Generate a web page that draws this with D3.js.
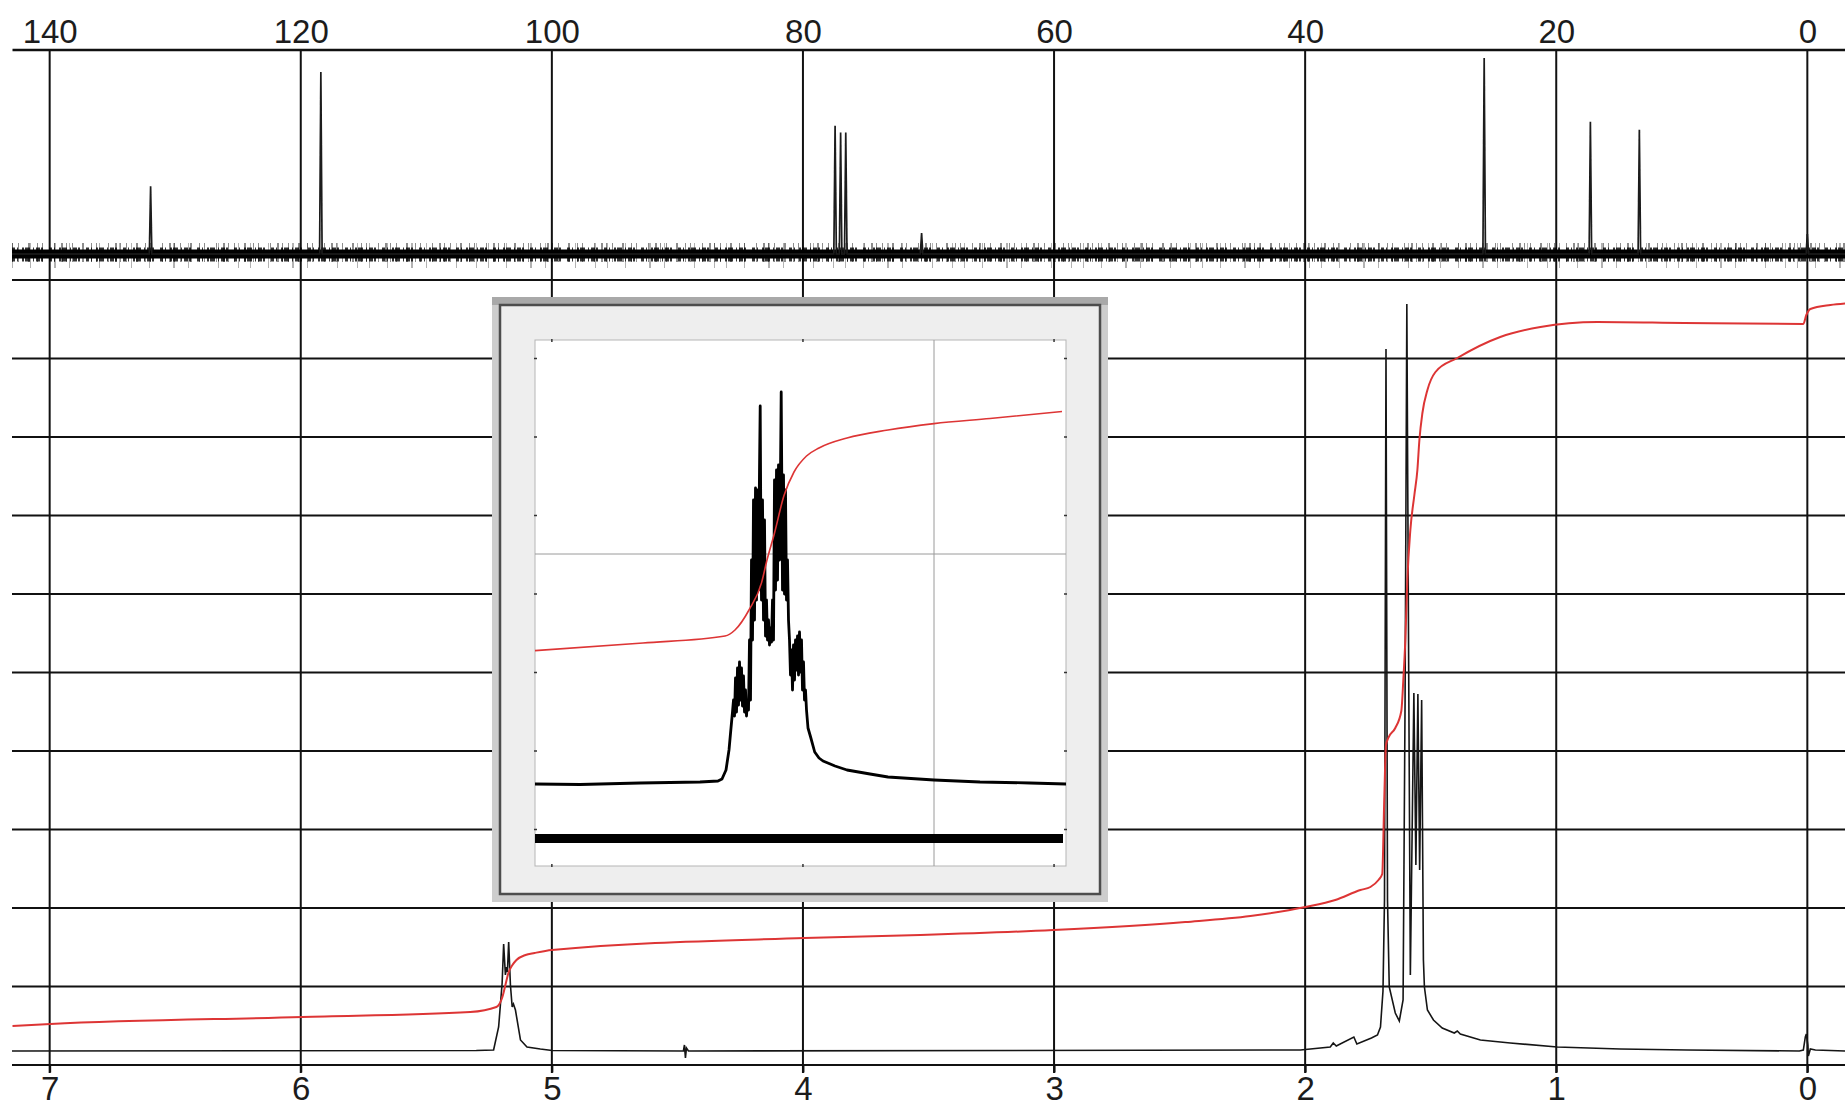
<!DOCTYPE html>
<html><head><meta charset="utf-8">
<script src="https://cdn.jsdelivr.net/npm/d3@7"></script>
<style>html,body{margin:0;padding:0;background:#fff;} svg{display:block;}</style>
</head><body>
<svg id="chart" width="1845" height="1106"></svg>
<script>
// ---------------- data ----------------
const carbonTicks = [140, 120, 100, 80, 60, 40, 20, 0];
const protonTicks = [7, 6, 5, 4, 3, 2, 1, 0];

// 13C peaks (ppm, height)
const carbonPeakPpm    = [131.96, 118.4, 77.44, 77.0, 76.59, 70.55, 25.74, 17.28, 13.38, 0.0];
const carbonPeakHeight = [68, 183, 129, 122, 122, 21, 197, 133, 125, 20];

// 1H spectrum trace (ppm, intensity)
const protonPpm = [7.15, 5.301, 5.232, 5.212, 5.198, 5.192, 5.185, 5.181, 5.177, 5.172, 5.165, 5.158, 5.153, 5.145, 5.125, 5.099, 5.046, 4.999,
  4.476, 4.472, 4.468, 4.464, 4.456, 2.019, 1.900, 1.888, 1.876, 1.806, 1.794, 1.736, 1.712, 1.700, 1.690, 1.684, 1.678, 1.672, 1.665, 1.641, 1.625,
  1.610, 1.602, 1.595, 1.587, 1.581, 1.567, 1.559, 1.551, 1.544, 1.536, 1.529, 1.525, 1.513, 1.489, 1.454, 1.406, 1.394, 1.382, 1.302, 1.183,
  0.996, 0.745, 0.478, 0.032, 0.016, 0.008, 0.004, -0.002, -0.004, -0.012, -0.032, -0.151];
const protonIntensity = [0, 0.5, 1, 24, 68, 107, 76, 84, 79, 109, 66, 44, 47, 41, 11, 4, 2, 0.5,
  0, 6, -7, 3, 0, 1, 4, 8, 5, 14, 7, 13, 16, 24, 60, 151, 702, 151, 64, 38, 30,
  51, 351, 747, 351, 76, 358, 186, 357, 181, 351, 91, 64, 41, 31, 23, 18, 20, 17, 11, 8,
  4, 2, 1, 0, 1, 14, 17, 6, -5, 2, 1, 0];

// 1H integral curve (ppm, value)
const protonIntegralPpm = [7.148, 6.997, 5.994, 5.325, 5.221, 5.197, 5.185, 5.173, 5.157, 5.141, 5.105, 5.069, 5.000, 3.994, 3.532, 3.003,
  2.477, 2.218, 1.999, 1.880, 1.780, 1.740, 1.708, 1.693, 1.685, 1.678, 1.669, 1.641, 1.617, 1.609, 1.601, 1.593, 1.581, 1.565, 1.553, 1.545,
  1.533, 1.513, 1.481, 1.394, 1.223, 1.063, 0.836, 0.490, 0.016, 0.004, -0.012, -0.092, -0.151];
const protonIntegralValue = [25, 27, 34, 39, 44, 54, 66, 78, 86, 91, 96, 98, 101, 113, 116, 121,
  129, 135, 144, 151, 161, 164, 171, 177, 251, 306, 313, 323, 340, 371, 411, 471, 521, 556, 581, 611,
  638, 661, 679, 693, 714, 724, 729, 728, 727, 736, 742, 746, 747.5];

// inset: expansion of the 5.18 ppm multiplet (ppm, intensity)
const insetPpm = [5.420, 5.375, 5.315, 5.255, 5.237, 5.233, 5.229, 5.226, 5.224, 5.2225, 5.2215, 5.2205, 5.2195, 5.2185, 5.2175, 5.2165,
  5.2155, 5.2145, 5.2135, 5.2125, 5.2115, 5.2105, 5.2095, 5.2085, 5.2075, 5.2065, 5.2055, 5.2045, 5.2035, 5.2025, 5.2015, 5.2005, 5.1995,
  5.1985, 5.1975, 5.1965, 5.1955, 5.1948, 5.1942, 5.1935, 5.1925, 5.1915, 5.1905, 5.1895, 5.1885, 5.1875, 5.1865, 5.1855, 5.1845, 5.1835,
  5.1825, 5.1815, 5.1805, 5.1795, 5.1785, 5.1775, 5.1765, 5.1755, 5.1745, 5.1738, 5.1732, 5.1725, 5.1715, 5.1705, 5.1695, 5.1685, 5.1675,
  5.1665, 5.1655, 5.1645, 5.1635, 5.1625, 5.1615, 5.1605, 5.1595, 5.1585, 5.1575, 5.1565, 5.1555, 5.1545, 5.1535, 5.1525, 5.1515, 5.1505,
  5.1495, 5.1485, 5.147, 5.1444, 5.1403, 5.136, 5.132, 5.120, 5.108, 5.085, 5.067, 5.021, 4.975, 4.925, 4.889];
const insetIntensity = [0, -0.5, 1, 2, 3, 5, 14, 34, 56, 72, 84, 68, 106, 72, 116, 79,
  122, 84, 116, 78, 108, 72, 94, 68, 84, 74, 144, 84, 224, 144, 284, 164, 296,
  184, 294, 194, 314, 378, 264, 184, 284, 164, 264, 148, 184, 144, 164, 139, 156, 142,
  184, 144, 304, 194, 314, 204, 319, 224, 314, 392, 304, 194, 309, 190, 294, 184, 224,
  164, 144, 109, 134, 94, 139, 104, 144, 114, 148, 109, 152, 112, 144, 94, 122, 84,
  94, 74, 56, 47, 32, 26, 23, 18, 14, 10, 7, 4, 2, 1, 0];
const insetIntegralPpm = [5.420, 5.312, 5.230, 5.220, 5.206, 5.1934, 5.188, 5.181, 5.171, 5.161, 5.1485, 5.136, 5.108, 5.067, 5.021, 4.965, 4.893];
const insetIntegralValue = [133.4, 141, 148, 154, 174, 201.4, 224, 249, 288.4, 312, 328, 336, 346, 354, 360.4, 365.5, 372.5];
const insetGridPpm = [5.021];
const insetGridIntensity = [230];
const insetBandIntensity = [-54.5];

// ---------------- layout ----------------
const W = 1845, H = 1106;
const plotLeft = 12, plotRight = 1845;
const topAxisY = 50;
const gridTopY = 280, gridBottomY = 1065, tickExt = 8;
const FONT = "'Liberation Sans', Arial, Helvetica, sans-serif";
const gridColor = '#111';
const red = '#dd3535';

const svg = d3.select('#chart');
svg.append('rect').attr('width', W).attr('height', H).attr('fill', '#fff');
const defs = svg.append('defs');
defs.append('filter').attr('id', 'soft').attr('x', '-1%').attr('y', '-50%').attr('width', '102%').attr('height', '200%')
  .append('feGaussianBlur').attr('stdDeviation', 0.55);

const xH = d3.scaleLinear().domain([7.15, -0.15]).range([plotLeft, plotRight]);
const xC = d3.scaleLinear().domain([143, -3]).range([plotLeft, plotRight]);
const yC = d3.scaleLinear().domain([0, 197]).range([254, 58]);
const yH = d3.scaleLinear().domain([0, 747]).range([1051, 304]);
const yGrid = d3.scaleLinear().domain([0, 10]).range([gridBottomY, gridTopY]);

// vertical grid lines (shared by both scales)
svg.append('g').selectAll('line').data(protonTicks).join('line')
  .attr('x1', d => xH(d)).attr('x2', d => xH(d))
  .attr('y1', topAxisY).attr('y2', gridBottomY + tickExt)
  .attr('stroke', gridColor).attr('stroke-width', 2);

// horizontal grid lines of the 1H panel
svg.append('g').selectAll('line').data(yGrid.ticks(10)).join('line')
  .attr('x1', plotLeft).attr('x2', plotRight)
  .attr('y1', d => yGrid(d)).attr('y2', d => yGrid(d))
  .attr('stroke', gridColor).attr('stroke-width', 2);

// top (13C) axis
const topAxis = d3.axisTop(xC).tickValues(carbonTicks).tickSize(0).tickPadding(7).tickFormat(d3.format('d'));
const gTop = svg.append('g').attr('transform', `translate(0,${topAxisY - 0.5})`).call(topAxis);
gTop.select('.domain').attr('stroke', gridColor).attr('stroke-width', 2.5);
gTop.selectAll('text').attr('font-size', 33).attr('font-family', FONT).attr('fill', '#1c1c1c');

// bottom (1H) axis
const botAxis = d3.axisBottom(xH).tickValues(protonTicks).tickSize(tickExt).tickSizeOuter(0).tickPadding(4).tickFormat(d3.format('d'));
const gBot = svg.append('g').attr('transform', `translate(0,${gridBottomY - 0.5})`).call(botAxis);
gBot.select('.domain').attr('stroke', gridColor).attr('stroke-width', 2);
gBot.selectAll('.tick line').attr('stroke', gridColor).attr('stroke-width', 2);
gBot.selectAll('text').attr('font-size', 33).attr('font-family', FONT).attr('fill', '#1c1c1c');

// ---------------- 13C spectrum ----------------
const lineC = d3.line().x(d => xC(d[0])).y(d => yC(d[1]));
const baseC = [[143, 0], [-3, 0]];
const gC = svg.append('g').attr('filter', 'url(#soft)');
// baseline noise band drawn as a textured stroke
const noiseLayers = [
  {w: 25, op: 0.30, dash: '1,17,1,23,2,13,1,29,1,19,1,11', dy: 1.5},
  {w: 19, op: 0.45, dash: '1,5,1,9,2,7,1,4,1,11,1,6,2,3', dy: -1.5},
  {w: 14, op: 0.80, dash: '3,2,1,4,2,1,5,3,1,2,4,1,2,6', dy: 0.5},
  {w: 9, op: 1.0, dash: null, dy: 0}
];
noiseLayers.forEach(l => {
  const p = gC.append('path').attr('d', lineC(baseC)).attr('fill', 'none').attr('stroke', '#000')
    .attr('stroke-width', l.w).attr('stroke-opacity', l.op).attr('transform', `translate(0,${l.dy})`);
  if (l.dash) p.attr('stroke-dasharray', l.dash);
});
const carbonPts = [[143, 0]];
carbonPeakPpm.map((p, i) => [p, carbonPeakHeight[i]]).sort((a, b) => b[0] - a[0])
  .forEach(([p, h]) => { carbonPts.push([p + 0.1, 0], [p, h], [p - 0.1, 0]); });
carbonPts.push([-3, 0]);
gC.append('path').attr('d', lineC(carbonPts)).attr('fill', 'none')
  .attr('stroke', '#1a1a1a').attr('stroke-width', 1.7).attr('stroke-linejoin', 'miter');

// ---------------- 1H spectrum + integral ----------------
const lineH = d3.line().x(d => xH(d[0])).y(d => yH(d[1]));
svg.append('path').attr('d', lineH(protonPpm.map((p, i) => [p, protonIntensity[i]])))
  .attr('fill', 'none').attr('stroke', '#151515').attr('stroke-width', 1.6);
const lineInt = d3.line().x(d => xH(d[0])).y(d => yH(d[1])).curve(d3.curveMonotoneX);
svg.append('path').attr('d', lineInt(protonIntegralPpm.map((p, i) => [p, protonIntegralValue[i]])))
  .attr('fill', 'none').attr('stroke', red).attr('stroke-width', 2);

// ---------------- inset ----------------
const frame = {x: 492, y: 297, w: 616, h: 605, band: 8};
const plot = {x: 535, y: 340, w: 531, h: 526};
const xIn = d3.scaleLinear().domain([5.42, 4.889]).range([plot.x, plot.x + plot.w]);
const yIn = d3.scaleLinear().domain([0, 444]).range([784, plot.y]);

const gIn = svg.append('g');
gIn.append('rect').attr('x', frame.x).attr('y', frame.y).attr('width', frame.w).attr('height', frame.h).attr('fill', '#cdcdcd');
gIn.append('rect').attr('x', frame.x).attr('y', frame.y).attr('width', frame.w).attr('height', frame.band).attr('fill', '#a9a9a9');
gIn.append('rect').attr('x', frame.x + frame.band).attr('y', frame.y + frame.band)
  .attr('width', frame.w - 2 * frame.band).attr('height', frame.h - 2 * frame.band)
  .attr('fill', '#eeeeee').attr('stroke', '#4d4d4d').attr('stroke-width', 2.5);
gIn.append('rect').attr('x', plot.x).attr('y', plot.y).attr('width', plot.w).attr('height', plot.h)
  .attr('fill', '#fff').attr('stroke', '#b5b5b5').attr('stroke-width', 1);

// small ticks on the inset edges where the main grid passes
const insetRowTicks = yGrid.ticks(10).map(d => yGrid(d)).filter(y => y > plot.y + 4 && y < plot.y + plot.h - 4);
const insetColTicks = protonTicks.map(d => xH(d)).filter(x => x > plot.x + 4 && x < plot.x + plot.w - 4);
const gTk = gIn.append('g').attr('stroke', '#333').attr('stroke-width', 1.5);
insetRowTicks.forEach(y => {
  gTk.append('line').attr('x1', plot.x - 1).attr('x2', plot.x + 2).attr('y1', y).attr('y2', y);
  gTk.append('line').attr('x1', plot.x + plot.w - 2).attr('x2', plot.x + plot.w + 1).attr('y1', y).attr('y2', y);
});
insetColTicks.forEach(x => {
  gTk.append('line').attr('x1', x).attr('x2', x).attr('y1', plot.y - 1).attr('y2', plot.y + 2);
  gTk.append('line').attr('x1', x).attr('x2', x).attr('y1', plot.y + plot.h - 2).attr('y2', plot.y + plot.h + 1);
});

// inset grid lines
gIn.append('g').selectAll('line').data(insetGridPpm).join('line')
  .attr('x1', d => xIn(d)).attr('x2', d => xIn(d)).attr('y1', plot.y).attr('y2', plot.y + plot.h)
  .attr('stroke', '#9a9a9a').attr('stroke-width', 1);
gIn.append('g').selectAll('line').data(insetGridIntensity).join('line')
  .attr('x1', plot.x).attr('x2', plot.x + plot.w).attr('y1', d => yIn(d)).attr('y2', d => yIn(d))
  .attr('stroke', '#9a9a9a').attr('stroke-width', 1);

// thick bar
gIn.append('g').selectAll('line').data(insetBandIntensity).join('line')
  .attr('x1', plot.x).attr('x2', plot.x + plot.w - 3).attr('y1', d => yIn(d)).attr('y2', d => yIn(d))
  .attr('stroke', '#000').attr('stroke-width', 9);

const lineIn = d3.line().x(d => xIn(d[0])).y(d => yIn(d[1]));
gIn.append('path').attr('d', lineIn(insetPpm.map((p, i) => [p, insetIntensity[i]])))
  .attr('fill', 'none').attr('stroke', '#000').attr('stroke-width', 2.8).attr('stroke-linejoin', 'round');
const lineInInt = d3.line().x(d => xIn(d[0])).y(d => yIn(d[1])).curve(d3.curveMonotoneX);
gIn.append('path').attr('d', lineInInt(insetIntegralPpm.map((p, i) => [p, insetIntegralValue[i]])))
  .attr('fill', 'none').attr('stroke', red).attr('stroke-width', 1.6);
</script>
</body></html>
